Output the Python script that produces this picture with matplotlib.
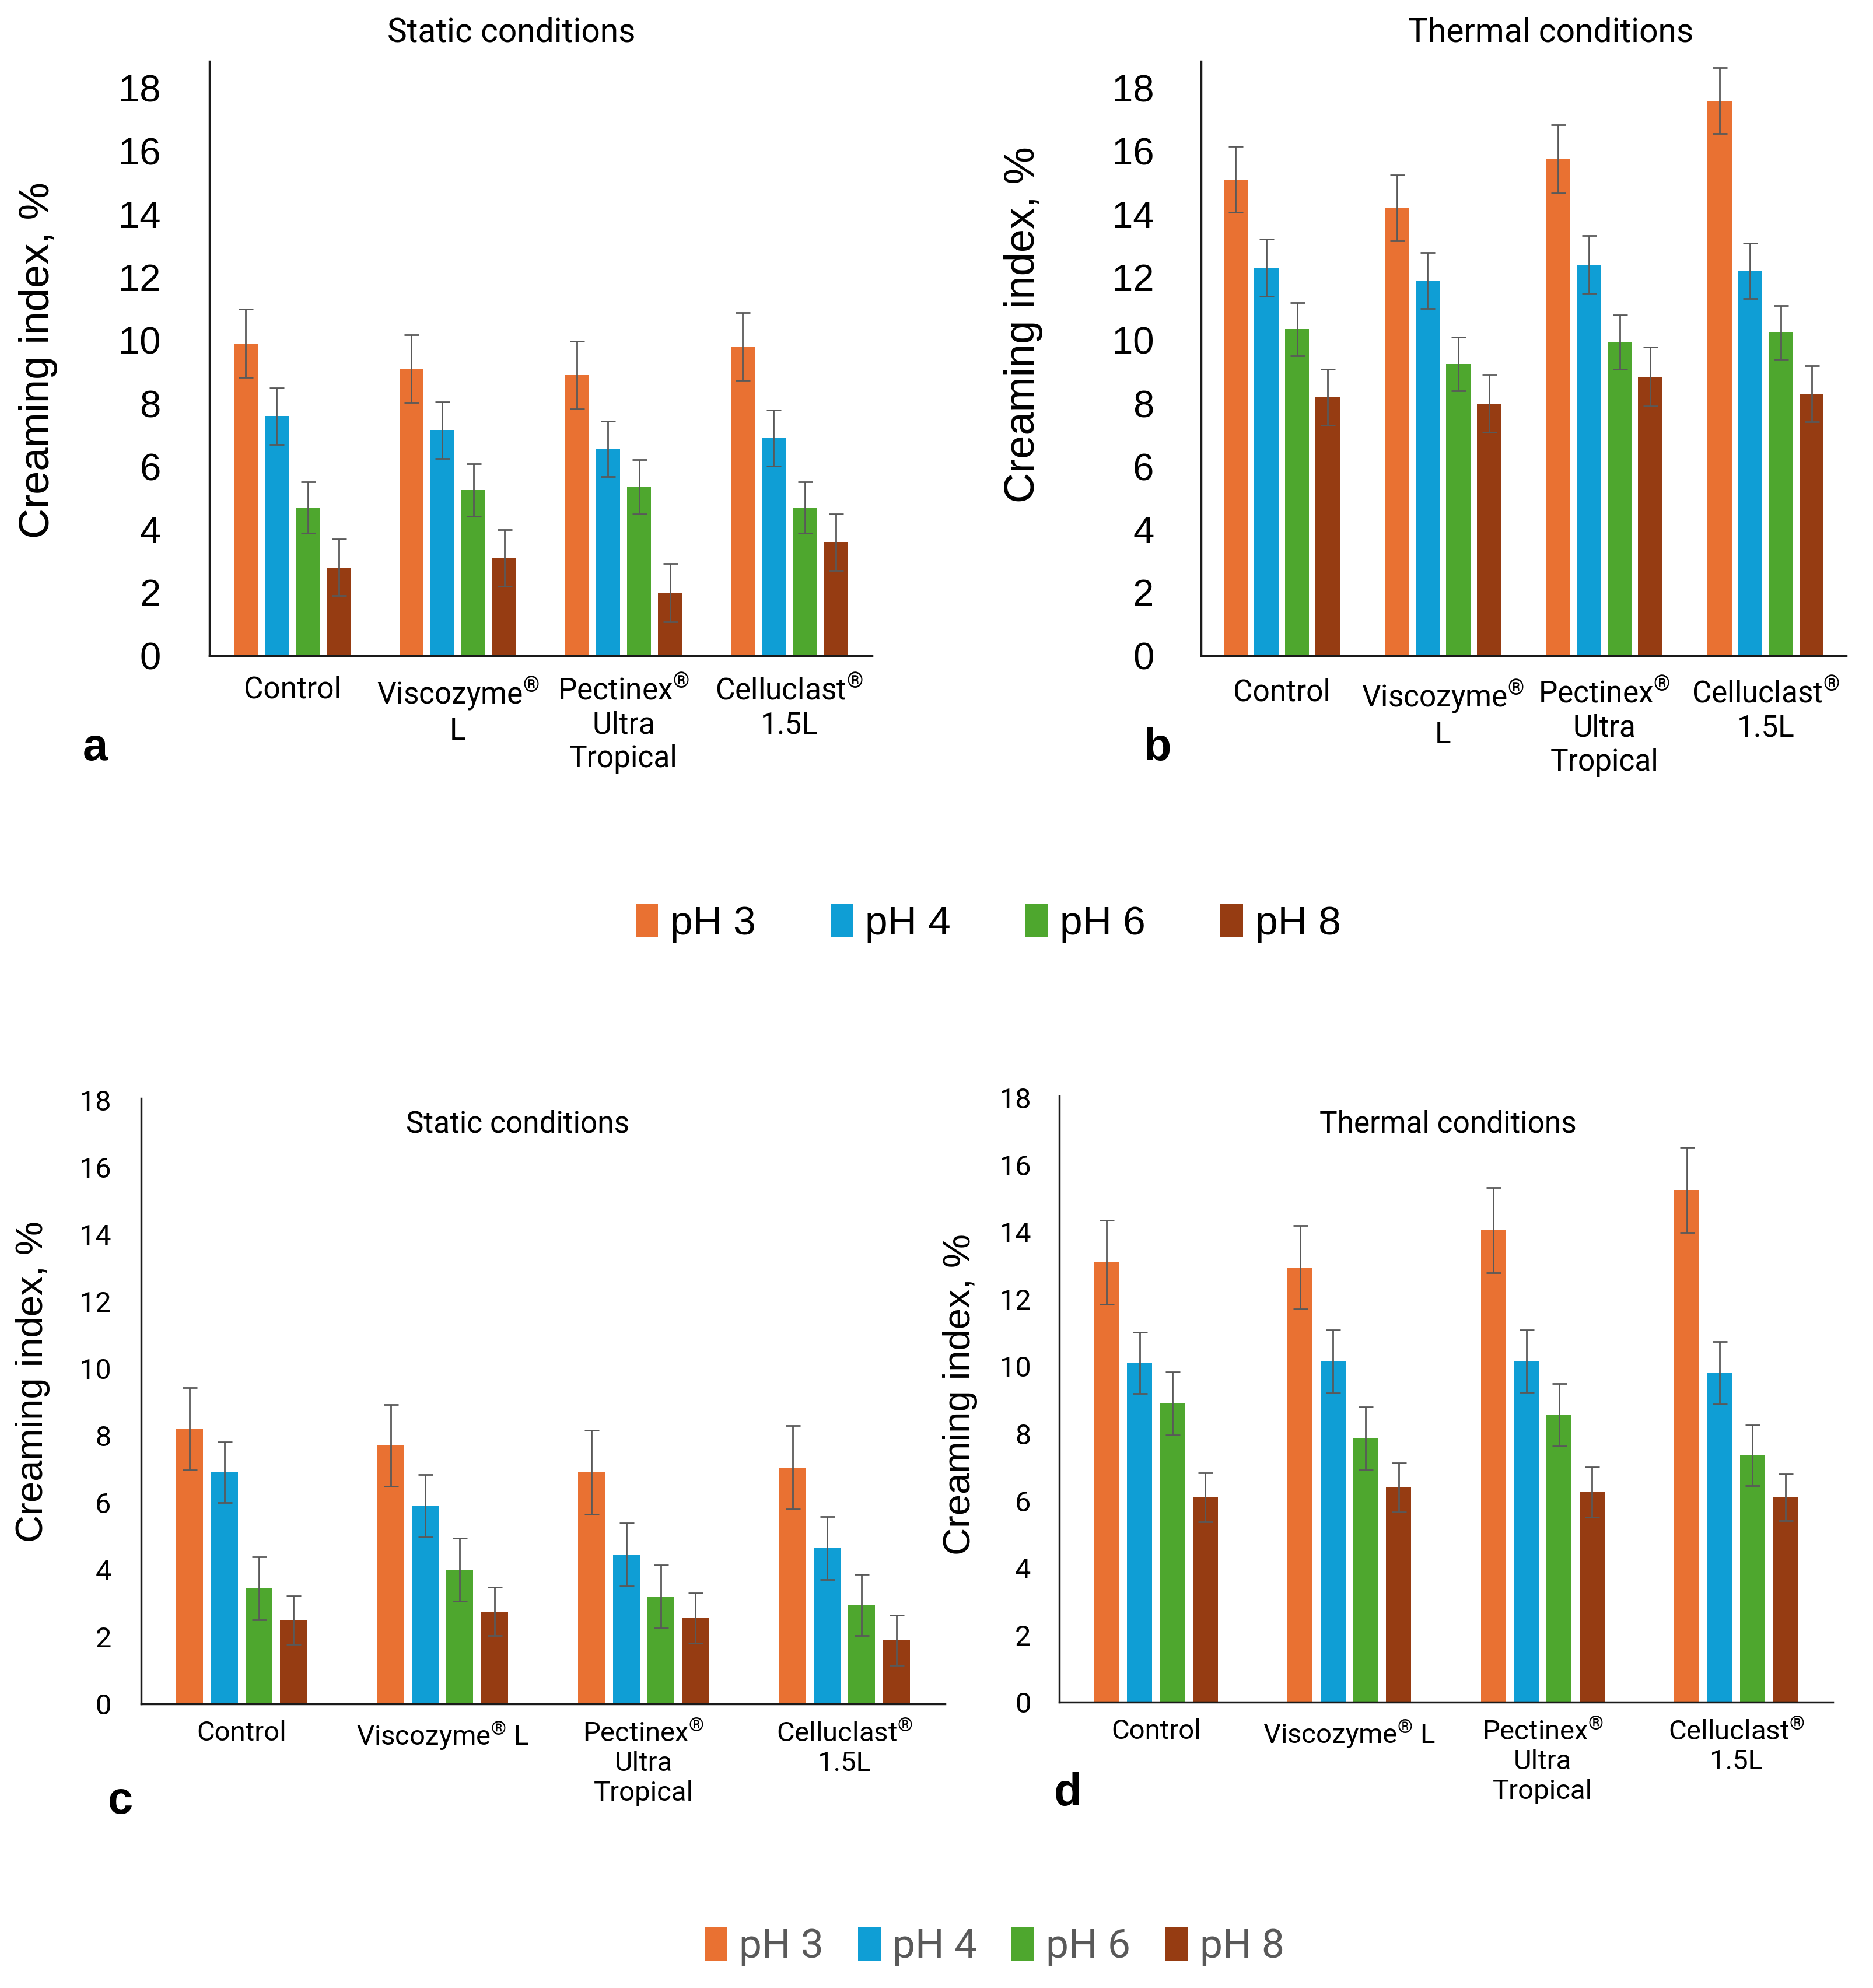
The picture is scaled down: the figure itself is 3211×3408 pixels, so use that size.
import matplotlib
matplotlib.use("Agg")
import matplotlib.pyplot as plt
from matplotlib.patches import Patch
import numpy as np

W, H = 3211, 3408
DPI = 100

plt.rcParams["mathtext.fontset"] = "custom"
plt.rcParams["mathtext.rm"] = "Roboto"
plt.rcParams["mathtext.it"] = "Roboto"
plt.rcParams["mathtext.bf"] = "Roboto"

ph_labels = ["pH 3", "pH 4", "pH 6", "pH 8"]
colors = ["#E97132", "#0F9ED5", "#4EA72E", "#963C12"]

cats_top = ["Control", "Viscozyme$^{®}$\nL", "Pectinex$^{®}$\nUltra\nTropical", "Celluclast$^{®}$\n1.5L"]
cats_bottom = ["Control", "Viscozyme$^{®}$ L", "Pectinex$^{®}$\nUltra\nTropical", "Celluclast$^{®}$\n1.5L"]

# (a) static conditions, top row
a_vals = [
    [9.9, 9.1, 8.9, 9.8],
    [7.6, 7.15, 6.55, 6.9],
    [4.7, 5.25, 5.35, 4.7],
    [2.8, 3.1, 2.0, 3.6],
]
a_errs = [
    [1.08, 1.08, 1.07, 1.07],
    [0.9, 0.9, 0.88, 0.88],
    [0.81, 0.83, 0.86, 0.81],
    [0.9, 0.9, 0.92, 0.89],
]
# (b) thermal conditions, top row
b_vals = [
    [15.1, 14.2, 15.75, 17.6],
    [12.3, 11.9, 12.4, 12.2],
    [10.35, 9.25, 9.95, 10.25],
    [8.2, 8.0, 8.85, 8.3],
]
b_errs = [
    [1.04, 1.05, 1.08, 1.05],
    [0.91, 0.89, 0.91, 0.88],
    [0.85, 0.85, 0.86, 0.85],
    [0.89, 0.91, 0.93, 0.89],
]
# (c) static conditions, bottom row
c_vals = [
    [8.2, 7.7, 6.9, 7.05],
    [6.9, 5.9, 4.45, 4.65],
    [3.45, 4.0, 3.2, 2.95],
    [2.5, 2.75, 2.55, 1.9],
]
c_errs = [
    [1.22, 1.22, 1.25, 1.25],
    [0.9, 0.93, 0.94, 0.94],
    [0.94, 0.94, 0.94, 0.91],
    [0.72, 0.72, 0.75, 0.75],
]
# (d) thermal conditions, bottom row
d_vals = [
    [13.1, 12.95, 14.05, 15.25],
    [10.1, 10.15, 10.15, 9.8],
    [8.9, 7.85, 8.55, 7.35],
    [6.1, 6.4, 6.25, 6.1],
]
d_errs = [
    [1.25, 1.24, 1.27, 1.27],
    [0.91, 0.94, 0.93, 0.93],
    [0.94, 0.94, 0.93, 0.91],
    [0.73, 0.73, 0.75, 0.7],
]

fig = plt.figure(figsize=(W / DPI, H / DPI), dpi=DPI)


def rect(left, right, top, bottom):
    # pixel box -> figure fraction
    return [left / W, 1 - bottom / H, (right - left) / W, (bottom - top) / H]


def fig_text(x, y, s, **kw):
    fig.text(x / W, 1 - y / H, s, **kw)


def panel(box, vals, errs, cats, width, step, ytop, tick_font, tick_size, ypad, xfont_size, xpad):
    ax = fig.add_axes(rect(*box))
    x = np.arange(len(cats))
    for i, (v, e) in enumerate(zip(vals, errs)):
        ax.bar(x + (i - 1.5) * step, v, width, color=colors[i], yerr=e,
               error_kw=dict(ecolor="#595959", elinewidth=2.0, capsize=9, capthick=2.0))
    ax.set_xlim(-0.5, 3.5)
    ax.set_ylim(0, ytop)
    ax.set_yticks(np.arange(0, 19, 2))
    ax.set_xticks(x)
    ax.set_xticklabels(cats, family="Roboto", fontsize=xfont_size, linespacing=1.2)
    for lab in ax.get_yticklabels():
        lab.set_family(tick_font)
        lab.set_fontsize(tick_size)
    ax.tick_params(axis="y", length=0, pad=ypad)
    ax.tick_params(axis="x", length=0, pad=xpad)
    for s in ["top", "right"]:
        ax.spines[s].set_visible(False)
    for s in ["left", "bottom"]:
        ax.spines[s].set_linewidth(2.5)
        ax.spines[s].set_color("#1a1a1a")
    return ax


panel((359, 1495, 105, 1124), a_vals, a_errs, cats_top, 0.144, 0.187, 18.85,
      "Liberation Sans", 47, 60, 37, 24)
panel((2059, 3165, 105, 1124), b_vals, b_errs, cats_top, 0.149, 0.19, 18.85,
      "Liberation Sans", 47, 58, 37, 28)
panel((242, 1620, 1883, 2921), c_vals, c_errs, cats_bottom, 0.134, 0.172, 18.05,
      "Roboto", 35, 37, 34, 20)
panel((1816, 3142, 1879, 2918), d_vals, d_errs, cats_bottom, 0.13, 0.17, 18.05,
      "Roboto", 35, 35, 34, 20)

# titles
fig_text(877, 56, "Static conditions", family="Roboto", fontsize=41, ha="center", va="center")
fig_text(2659, 56, "Thermal conditions", family="Roboto", fontsize=41, ha="center", va="center")
fig_text(888, 1927, "Static conditions", family="Roboto", fontsize=37, ha="center", va="center")
fig_text(2482, 1927, "Thermal conditions", family="Roboto", fontsize=37, ha="center", va="center")

# y labels
ylab = "Creaming index, %"
fig_text(66, 618, ylab, family="Liberation Sans", fontsize=52, rotation=90, ha="center", va="center")
fig_text(1754, 557, ylab, family="Liberation Sans", fontsize=52, rotation=90, ha="center", va="center")
fig_text(56, 2368, ylab, family="Liberation Sans", fontsize=47, rotation=90, ha="center", va="center")
fig_text(1646, 2390, ylab, family="Liberation Sans", fontsize=47, rotation=90, ha="center", va="center")

# panel letters
for s, (px, py) in zip("abcd", [(163, 1283), (1985, 1283), (207, 3089), (1831, 3075)]):
    fig_text(px, py, s, family="Liberation Sans", fontsize=56, fontweight="bold", ha="center", va="center")

handles = [Patch(facecolor=c, edgecolor="none") for c in colors]
fig.legend(handles, ph_labels, loc="center", bbox_to_anchor=(1694 / W, 1 - 1583 / H), ncol=4,
           frameon=False, prop={"family": "Liberation Sans", "size": 50},
           handlelength=0.55, handleheight=0.9, handletextpad=0.3, columnspacing=1.85)
fig.legend(handles, ph_labels, loc="center", bbox_to_anchor=(1705 / W, 1 - 3337 / H), ncol=4,
           frameon=False, prop={"family": "Roboto", "size": 50}, labelcolor="#595959",
           handlelength=0.55, handleheight=0.9, handletextpad=0.3, columnspacing=0.85)

fig.savefig("out.png", dpi=DPI)
